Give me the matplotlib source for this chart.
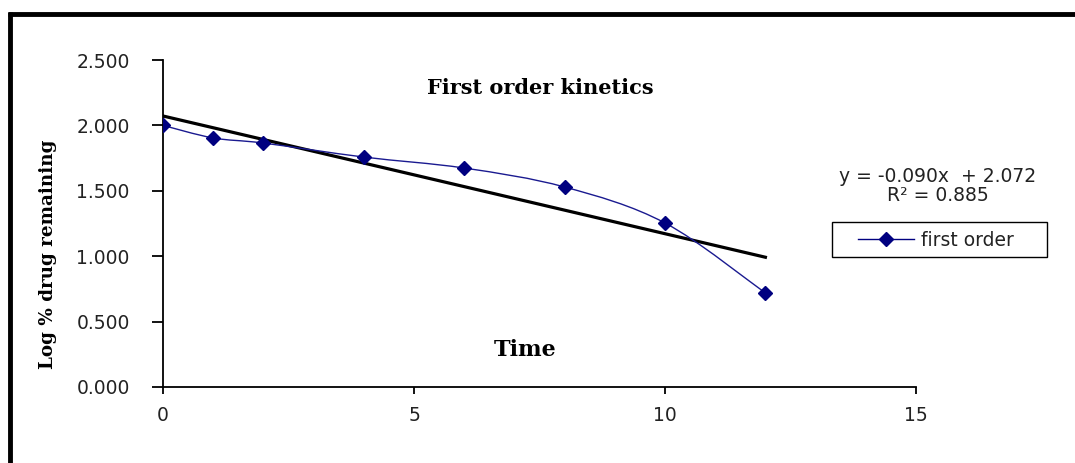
import numpy as np
import matplotlib
matplotlib.use("Agg")
import matplotlib.pyplot as plt
from matplotlib.path import Path
from matplotlib.patches import PathPatch, Rectangle
from matplotlib.lines import Line2D

# Data
time = [0, 1, 2, 4, 6, 8, 10, 12]
log_drug = [2.000, 1.904, 1.865, 1.758, 1.674, 1.529, 1.254, 0.719]
slope = -0.090
intercept = 2.072
r2 = 0.885
xticks = [0, 5, 10, 15]
yticks = [0.0, 0.5, 1.0, 1.5, 2.0, 2.5]

W, H = 1075, 463
fig = plt.figure(figsize=(W / 100, H / 100), dpi=100)
ax = fig.add_axes([163 / W, 1 - 387 / H, (916 - 163) / W, (387 - 60) / H])

navy = "#000080"
sans = "DejaVu Sans"
serif = "DejaVu Serif"

# Smoothed line (Catmull-Rom -> cubic Bezier) through the data points
xs = np.array(time, float)
ys = np.array(log_drug, float)
verts = [(xs[0], ys[0])]
codes = [Path.MOVETO]
n = len(xs)
for i in range(n - 1):
    p0 = np.array([xs[max(i - 1, 0)], ys[max(i - 1, 0)]])
    p1 = np.array([xs[i], ys[i]])
    p2 = np.array([xs[i + 1], ys[i + 1]])
    p3 = np.array([xs[min(i + 2, n - 1)], ys[min(i + 2, n - 1)]])
    c1 = p1 + (p2 - p0) / 6.0
    c2 = p2 - (p3 - p1) / 6.0
    verts += [tuple(c1), tuple(c2), tuple(p2)]
    codes += [Path.CURVE4, Path.CURVE4, Path.CURVE4]
ax.add_patch(PathPatch(Path(verts, codes), facecolor="none", edgecolor="#1a1a90", lw=1.0, zorder=3))
ax.plot(time, log_drug, linestyle="none", marker="D", color=navy, markersize=7.5, zorder=4)

# Trend line
tx = np.array([time[0], time[-1]], float)
ax.plot(tx, slope * tx + intercept, color="black", lw=2.3, zorder=2)

ax.set_xlim(0, 15)
ax.set_ylim(0, 2.5)
ax.set_xticks(xticks)
ax.set_yticks(yticks)
ax.set_xticklabels([str(v) for v in xticks])
ax.set_yticklabels([f"{v:.3f}" for v in yticks])
for s in ["top", "right"]:
    ax.spines[s].set_visible(False)
for s in ["left", "bottom"]:
    ax.spines[s].set_linewidth(1.3)
ax.tick_params(direction="out", width=1.3, labelsize=13.5, colors="black",
               labelfontfamily=sans, labelcolor="#222222")
ax.tick_params(axis="x", length=5, pad=9)
ax.tick_params(axis="y", length=8, pad=16)

fig.text(540 / W, 1 - 88 / H, "First order kinetics", ha="center", va="center",
         fontfamily=serif, fontweight="bold", fontsize=15)
fig.text(525 / W, 1 - 350 / H, "Time", ha="center", va="center",
         fontfamily=serif, fontweight="bold", fontsize=16)
fig.text(48 / W, 1 - 254 / H, "Log % drug remaining", ha="center", va="center",
         rotation=90, fontfamily=serif, fontweight="bold", fontsize=13.2)

fig.text(938 / W, 1 - 186 / H, f"y = {slope:.3f}x  + {intercept:.3f}\nR² = {r2:.3f}",
         ha="center", va="center", fontfamily=sans, fontsize=13.5,
         linespacing=1.0, color="#222222")

# Legend (entries) with a separately drawn frame
handle = Line2D([], [], color=navy, lw=1.0, marker="D", markersize=7.5)
leg = fig.legend([handle], ["first order"], loc="center left",
                 bbox_to_anchor=(858 / W, 1 - 240 / H),
                 frameon=False, handlelength=3.0,
                 prop={"family": sans, "size": 13.5}, borderpad=0,
                 handletextpad=0.35, borderaxespad=0)
for t in leg.get_texts():
    t.set_color("#222222")
fig.add_artist(Rectangle((832 / W, 1 - 257 / H), (1047 - 832) / W, 35 / H,
                         transform=fig.transFigure, facecolor="none",
                         edgecolor="black", lw=1.0))

# Outer border (left and top)
fig.add_artist(Line2D([9.5 / W, 9.5 / W], [0, 1 - 12 / H], color="black", lw=3.5,
                      transform=fig.transFigure, solid_capstyle="butt"))
fig.add_artist(Line2D([8 / W, 1], [1 - 13.5 / H, 1 - 13.5 / H], color="black", lw=3.5,
                      transform=fig.transFigure, solid_capstyle="butt"))

fig.savefig("out.png", dpi=100)
